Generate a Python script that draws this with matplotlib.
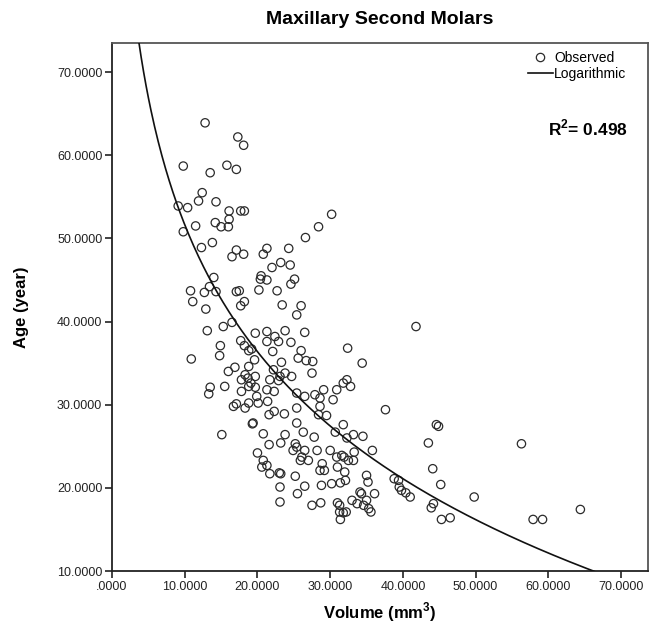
import numpy as np
import matplotlib
matplotlib.use("Agg")
import matplotlib.pyplot as plt
from matplotlib.lines import Line2D

plt.rcParams['font.family'] = ['Liberation Sans', 'DejaVu Sans']
plt.rcParams['mathtext.fontset'] = 'custom'
plt.rcParams['mathtext.bf'] = 'Liberation Sans:bold'
plt.rcParams['mathtext.rm'] = 'Liberation Sans:bold'

# volume (mm3) / age (year)
volume = [
    12.8, 17.3, 18.1, 9.8, 13.5, 15.8, 17.1, 12.4, 11.9, 14.3, 9.1, 10.4, 16.1, 17.7,
    18.2, 16.1, 14.2, 15.0, 16.0, 11.5, 9.8, 12.3, 13.8, 17.1, 16.5, 18.1, 30.2, 28.4,
    26.6, 21.3, 20.8, 24.3, 23.2, 22.0, 24.5, 20.5, 21.3, 20.4, 25.1, 24.6, 14.0, 10.8,
    12.7, 13.4, 14.3, 11.1, 12.9, 17.1, 17.5, 20.2, 22.7, 18.2, 17.7, 23.4, 26.0, 25.4,
    13.1, 15.3, 16.5, 14.9, 14.8, 10.9, 17.7, 18.2, 18.8, 19.2, 19.7, 21.3, 22.4, 23.8,
    21.3, 22.9, 24.6, 26.5, 22.1, 26.0, 25.6, 27.6, 27.5, 23.3, 19.6, 18.8, 16.0, 16.9,
    18.3, 17.8, 19.7, 19.7, 18.8, 22.2, 23.8, 24.7, 21.7, 22.9, 21.3, 22.3, 13.5, 13.3,
    15.5, 17.1, 16.7, 18.3, 18.8, 20.1, 21.4, 21.6, 22.3, 23.7, 25.4, 26.5, 27.9, 29.1,
    28.6, 28.4, 19.3, 19.4, 15.1, 20.8, 23.8, 25.4, 26.3, 27.8, 21.6, 23.2, 25.2, 25.4,
    24.9, 26.5, 25.9, 28.2,
    18.7, 19.1, 23.1, 17.8, 19.9, 25.4, 26.7, 28.6, 29.5, 20.0, 20.8, 20.6, 21.3, 21.7,
    23.0, 23.2, 25.2, 26.1, 27.0, 28.9, 28.6, 29.2,
    32.4, 34.4, 37.6, 32.3, 32.8, 31.8, 30.9, 30.4, 31.8, 30.7, 32.3, 33.2, 34.5, 35.8,
    33.3, 31.6, 31.9, 30.9, 30.0, 32.5, 33.2, 31.0, 32.0, 35.0, 35.2, 36.1, 32.1, 31.4,
    30.2, 28.8, 26.5, 25.5, 23.1, 23.1, 27.5, 28.7, 33.0, 34.1, 34.3, 35.0, 33.7, 34.6,
    31.0, 31.3, 31.8, 31.3, 31.4, 35.6, 35.3, 38.8, 39.4, 32.2,
    41.8, 44.6, 44.9, 43.5, 44.1, 45.2, 44.2, 43.9, 45.3, 46.5, 49.8, 39.5, 39.8, 40.4,
    41.0, 56.3, 64.4, 57.9, 59.2,
]
age = [
    63.9, 62.2, 61.2, 58.7, 57.9, 58.8, 58.3, 55.5, 54.5, 54.4, 53.9, 53.7, 53.3, 53.3,
    53.3, 52.3, 51.9, 51.4, 51.4, 51.5, 50.8, 48.9, 49.5, 48.6, 47.8, 48.1, 52.9, 51.4,
    50.1, 48.8, 48.1, 48.8, 47.1, 46.5, 46.8, 45.5, 45.0, 45.1, 45.1, 44.5, 45.3, 43.7,
    43.5, 44.2, 43.6, 42.4, 41.5, 43.6, 43.7, 43.8, 43.7, 42.4, 41.9, 42.0, 41.9, 40.8,
    38.9, 39.4, 39.9, 37.1, 35.9, 35.5, 37.7, 37.1, 36.5, 36.7, 38.6, 38.8, 38.2, 38.9,
    37.6, 37.6, 37.5, 38.7, 36.4, 36.5, 35.6, 35.2, 33.8, 35.1, 35.4, 34.6, 34.0, 34.5,
    33.6, 33.0, 33.4, 32.1, 32.2, 34.2, 33.8, 33.4, 33.0, 32.9, 31.8, 31.6, 32.1, 31.3,
    32.2, 30.1, 29.8, 29.6, 30.2, 30.2, 30.4, 28.8, 29.2, 28.9, 29.6, 31.0, 31.2, 31.8,
    29.8, 28.8, 27.7, 27.8, 26.4, 26.5, 26.4, 27.8, 26.7, 26.1, 25.2, 25.4, 25.3, 24.9,
    24.5, 24.5, 23.3, 24.5,
    33.2, 32.6, 33.4, 31.6, 31.0, 31.4, 35.3, 30.8, 28.7, 24.2, 23.3, 22.5, 22.7, 21.7,
    21.8, 21.7, 21.4, 23.7, 23.3, 22.9, 22.1, 22.1,
    36.8, 35.0, 29.4, 33.0, 32.2, 32.6, 31.8, 30.6, 27.6, 26.7, 26.0, 26.4, 26.2, 24.5,
    24.3, 23.9, 23.7, 23.7, 24.5, 23.3, 23.3, 22.5, 21.9, 21.5, 20.7, 19.3, 20.9, 20.6,
    20.5, 20.3, 20.2, 19.3, 20.1, 18.3, 17.9, 18.2, 18.5, 19.5, 19.3, 18.5, 18.1, 17.9,
    18.2, 17.9, 17.0, 17.1, 16.2, 17.1, 17.5, 21.1, 20.9, 17.1,
    39.4, 27.6, 27.4, 25.4, 22.3, 20.4, 18.1, 17.6, 16.2, 16.4, 18.9, 20.1, 19.7, 19.4,
    18.9, 25.3, 17.4, 16.2, 16.2,
]

# logarithmic fit: age = b0 + b1 * ln(volume)
b0 = 102.4
b1 = -22.04
r_squared = 0.498

x_ticks = [0, 10, 20, 30, 40, 50, 60, 70]
y_ticks = [10, 20, 30, 40, 50, 60, 70]

fig = plt.figure(figsize=(6.52, 6.31), dpi=100)
ax = fig.add_axes([112 / 652, 1 - 571 / 631, 536 / 652, 528 / 631])

ax.scatter(volume, age, s=36, facecolors='none', edgecolors='#2b2b2b',
           linewidths=0.9, zorder=3)

fit_x = np.linspace(3.0, 70.0, 400)
ax.plot(fit_x, b0 + b1 * np.log(fit_x), color='#111111', lw=1.2, zorder=4)

ax.set_xlim(0, 73.7)
ax.set_ylim(10, 73.5)
ax.set_xticks(x_ticks)
ax.set_xticklabels([('%.4f' % v).lstrip('0') if v == 0 else '%.4f' % v for v in x_ticks])
ax.set_yticks(y_ticks)
ax.set_yticklabels(['%.4f' % v for v in y_ticks])
ax.tick_params(direction='out', length=5, width=1.2, labelsize=9, colors='#222222', pad=2)
ax.tick_params(top=False, right=False)
for side, sp in ax.spines.items():
    sp.set_linewidth(1.3)
    sp.set_color('#222222' if side in ('left', 'bottom') else '#555555')

fig.text(380 / 652, 1 - 20 / 631, 'Maxillary Second Molars', ha='center', va='center',
         fontsize=14, fontweight='bold')
fig.text(22 / 652, 1 - 307 / 631, 'Age (year)', ha='center', va='center', rotation=90,
         fontsize=12, fontweight='bold')
fig.text(380 / 652, 1 - 612 / 631, r'Volume (mm$^{\mathbf{3}}$)', ha='center', va='center',
         fontsize=12, fontweight='bold')

ax.text(0.962, 0.839, r'R$^{\mathbf{2}}$= %.3f' % r_squared, transform=ax.transAxes,
        ha='right', va='center', fontsize=12.5, fontweight='bold')

handles = [
    Line2D([], [], ls='none', marker='o', markersize=6, markerfacecolor='none',
           markeredgecolor='#2b2b2b', markeredgewidth=0.9, label='Observed'),
    Line2D([], [], color='#111111', lw=1.2, label='Logarithmic'),
]
ax.legend(handles=handles, loc='upper right', frameon=False, fontsize=10,
          handlelength=1.8, handletextpad=0.1, labelspacing=0.1,
          borderaxespad=0.2, bbox_to_anchor=(0.975, 1.0))

fig.savefig('out.png', dpi=100)
